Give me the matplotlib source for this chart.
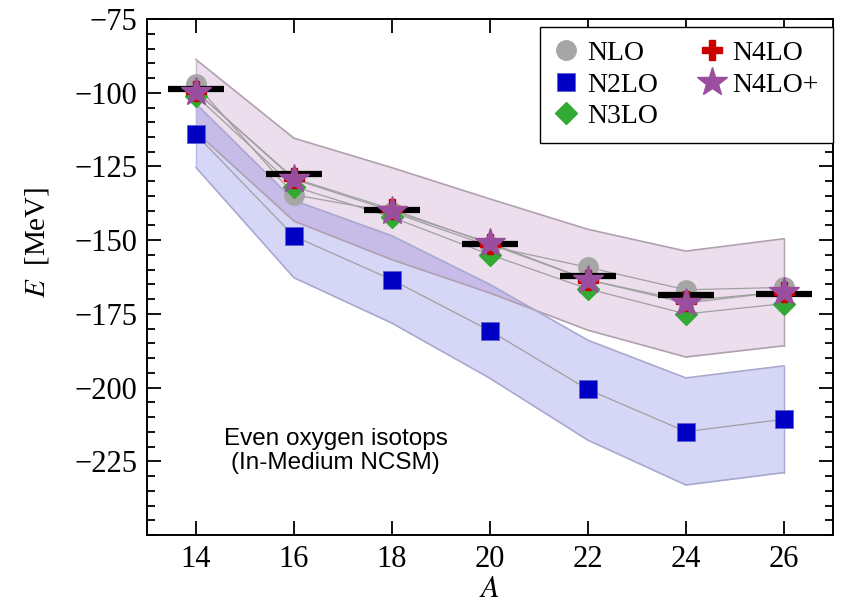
import numpy as np
import matplotlib.pyplot as plt
from matplotlib.ticker import MultipleLocator, FixedLocator

plt.rcParams['font.family'] = 'Liberation Serif'
plt.rcParams['mathtext.fontset'] = 'stix'

# mass numbers of the even oxygen isotopes
A = [14, 16, 18, 20, 22, 24, 26]

# experiment (black bars)
E_exp = [-98.7, -127.6, -139.8, -151.4, -162.0, -168.5, -168.4]

# In-Medium NCSM results per chiral order
E_nlo = [-97.2, -134.6, -140.5, -152.0, -159.2, -166.8, -166.0]
E_n2lo = [-114.1, -148.6, -163.4, -180.7, -200.6, -214.9, -210.7]
E_n3lo = [-101.0, -131.8, -142.2, -154.9, -166.5, -175.0, -171.5]
E_n4lo = [-99.5, -129.0, -139.5, -151.3, -163.5, -170.5, -167.5]
E_n4lop = [-99.6, -129.3, -140.1, -150.9, -163.4, -171.3, -167.4]

# uncertainty bands
band_hi = [-88.7, -115.4, -125.4, -136.0, -146.3, -153.7, -149.5]
band_lo = [-113.2, -143.5, -156.6, -167.9, -180.5, -189.6, -185.8]
n2lo_hi = [-103.7, -136.5, -148.5, -165.0, -183.9, -196.7, -192.6]
n2lo_lo = [-125.3, -162.7, -178.1, -196.8, -217.8, -233.0, -228.8]

yticks = [-225, -200, -175, -150, -125, -100, -75]

fig = plt.figure(figsize=(8.49, 6.04), dpi=100)
ax = fig.add_axes([0.173, 0.114, 0.808, 0.8545])

# bands
ax.fill_between(A, band_lo, band_hi, color=(0.6, 0.3, 0.6), alpha=0.18, lw=0, zorder=1)
ax.fill_between(A, n2lo_lo, n2lo_hi, color=(0.2, 0.2, 0.85), alpha=0.2, lw=0, zorder=1)
for edge, c in [(band_hi, '#b0a0b0'), (band_lo, '#b0a0b0'), (n2lo_hi, '#a8a8d0'), (n2lo_lo, '#a8a8d0')]:
    ax.plot(A, edge, color=c, lw=1.2, zorder=1.5)
ax.plot([A[0], A[0]], [band_lo[0], band_hi[0]], color='#c8b8c8', lw=1, zorder=1.5)
ax.plot([A[-1], A[-1]], [band_lo[-1], band_hi[-1]], color='#b0a0b0', lw=1, zorder=1.5)
ax.plot([A[0], A[0]], [n2lo_lo[0], n2lo_hi[0]], color='#b8b8e8', lw=1, zorder=1.5)
ax.plot([A[-1], A[-1]], [n2lo_lo[-1], n2lo_hi[-1]], color='#a8a8d0', lw=1, zorder=1.5)

# thin connecting lines
for E in [E_nlo, E_n2lo, E_n3lo, E_n4lo, E_n4lop]:
    ax.plot(A, E, color='#a0a0a0', lw=0.9, zorder=2)

ax.plot(A, E_nlo, 'o', color='#a6a6a6', ms=14, mec='#a6a6a6', ls='none', zorder=3, label='NLO')
ax.plot(A, E_n2lo, 's', color='#0000c4', ms=13, mec='#6060d0', mew=0.6, ls='none', zorder=3, label='N2LO')
ax.plot(A, E_n3lo, 'D', color='#33aa33', ms=11.5, mec='#33aa33', ls='none', zorder=4, label='N3LO')
ax.plot(A, E_exp, '_', color='black', ms=40, mew=4.5, ls='none', zorder=5)
ax.plot(A, E_n4lo, 'P', color='#cc0000', ms=14, mec='#cc0000', ls='none', zorder=6, label='N4LO')
ax.plot(A, E_n4lop, '*', color='#9a4f9e', ms=22, mec='#9a4f9e', ls='none', zorder=7, label='N4LO+')

ax.text(0.2755, 0.163, 'Even oxygen isotops\n(In-Medium NCSM)', transform=ax.transAxes,
        family='Liberation Sans', fontsize=17.5, ha='center', va='center', linespacing=1.12)

ax.set_xlim(13, 27)
ax.set_ylim(-250, -75)
ax.xaxis.set_major_locator(MultipleLocator(2))
ax.yaxis.set_major_locator(FixedLocator(yticks))
ax.yaxis.set_minor_locator(MultipleLocator(5))
ax.tick_params(which='both', direction='in', top=True, right=True, labelsize=22, width=1.3, pad=7)
ax.tick_params(which='major', length=10)
ax.tick_params(which='minor', length=5.5)
ax.tick_params(axis='x', which='minor', top=False, bottom=False)
for s in ax.spines.values():
    s.set_linewidth(1.4)

ax.set_xlabel('$A$', fontsize=22, labelpad=1)
ax.set_ylabel('$E$  [MeV]', fontsize=21)
ax.yaxis.set_label_coords(-0.14, 0.568)

leg = ax.legend(ncol=2, loc='upper right', bbox_to_anchor=(1.0, 0.985), borderaxespad=0,
                fontsize=20, fancybox=False, edgecolor='black', framealpha=1,
                handletextpad=0.3, columnspacing=1.5, labelspacing=0.22, handlelength=0.9,
                borderpad=0.5)
leg.get_frame().set_linewidth(1.0)

fig.savefig('out.png', dpi=100)
